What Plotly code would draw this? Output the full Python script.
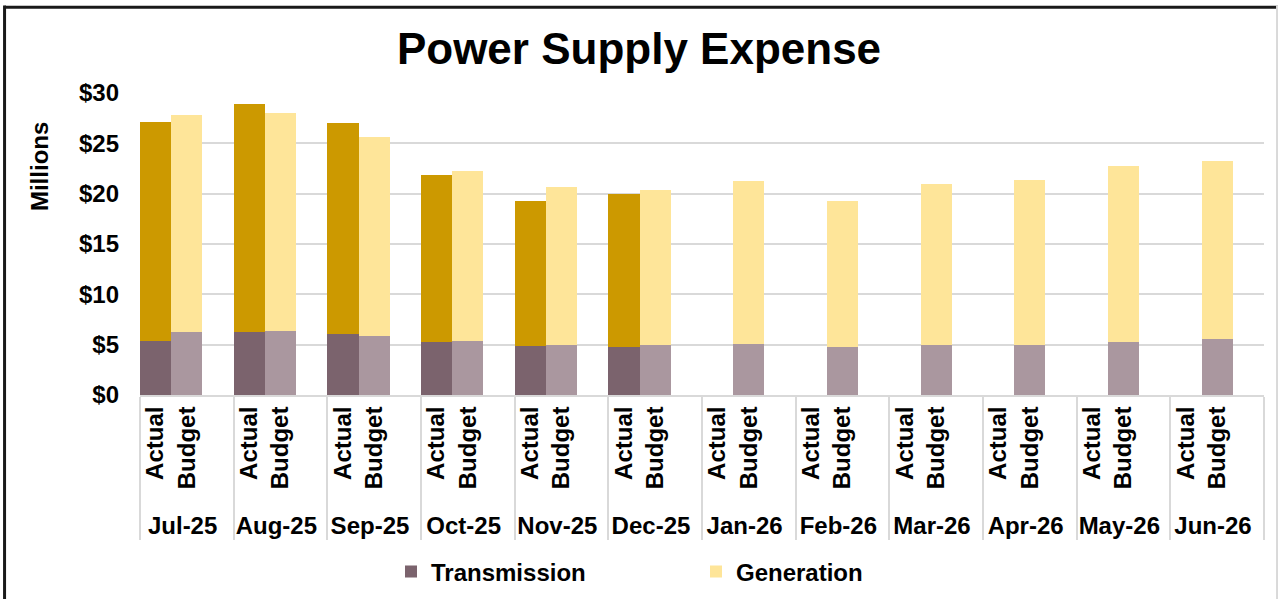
import plotly.graph_objects as go

months = ["Jul-25", "Aug-25", "Sep-25", "Oct-25", "Nov-25", "Dec-25",
          "Jan-26", "Feb-26", "Mar-26", "Apr-26", "May-26", "Jun-26"]
slots = ["Actual", "Budget", " "]

# $ millions
trans_actual = [5.38, 6.27, 6.07, 5.28, 4.89, 4.79, None, None, None, None, None, None]
gen_actual = [21.71, 22.60, 20.91, 16.55, 14.37, 15.16, None, None, None, None, None, None]
trans_budget = [6.27, 6.37, 5.88, 5.38, 4.98, 4.98, 5.08, 4.79, 4.98, 4.98, 5.28, 5.58]
gen_budget = [21.51, 21.60, 19.72, 16.85, 15.66, 15.37, 16.16, 14.47, 15.96, 16.36, 17.44, 17.64]

C_TA = "#7B636D"
C_TB = "#AA979F"
C_GA = "#CC9900"
C_GB = "#FEE599"
FONT = "Liberation Sans, Arial, sans-serif"

all_outer = [m for m in months for s in slots]
all_inner = [s for m in months for s in slots]

fig = go.Figure()
fig.add_trace(go.Bar(x=[all_outer, all_inner], y=[None] * len(all_outer),
                     showlegend=False, hoverinfo="skip"))
fig.add_trace(go.Bar(x=[months, ["Actual"] * 12], y=trans_actual, name="Transmission",
                     marker=dict(color=C_TA, line=dict(width=0)), legendgroup="t"))
fig.add_trace(go.Bar(x=[months, ["Budget"] * 12], y=trans_budget, name="Transmission",
                     marker=dict(color=C_TB, line=dict(width=0)), showlegend=False, legendgroup="t"))
fig.add_trace(go.Bar(x=[months, ["Actual"] * 12], y=gen_actual, name="Generation",
                     marker=dict(color=C_GA, line=dict(width=0)), showlegend=False, legendgroup="g"))
fig.add_trace(go.Bar(x=[months, ["Budget"] * 12], y=gen_budget, name="Generation",
                     marker=dict(color=C_GB, line=dict(width=0)), legendgroup="g"))

fig.update_layout(
    width=1278, height=599,
    barmode="stack", bargap=0,
    paper_bgcolor="white", plot_bgcolor="white",
    margin=dict(l=140, r=14, t=93, b=204, autoexpand=False),
    font=dict(family=FONT, size=24, color="black", weight="bold"),
    title=dict(text="Power Supply Expense", x=0.5, xanchor="center",
               y=1 - 49 / 599, yanchor="middle", yref="container",
               font=dict(family=FONT, size=44, color="black", weight="bold")),
    showlegend=True,
    legend=dict(orientation="h", xref="container", yref="container",
                x=391 / 1278, xanchor="left", y=1 - 572 / 599, yanchor="middle",
                font=dict(family=FONT, size=24, color="black", weight="bold"),
                entrywidth=260, entrywidthmode="pixels", traceorder="normal",
                bgcolor="rgba(0,0,0,0)"),
    xaxis=dict(type="multicategory", tickangle=-90, showgrid=False, automargin=False,
               showline=True, linecolor="#D9D9D9", linewidth=2,
               showdividers=True, dividercolor="#D9D9D9", dividerwidth=2,
               tickfont=dict(family=FONT, size=24, color="black", weight="bold"),
               ticks=""),
    yaxis=dict(range=[0, 30], dtick=5, tickprefix="$", showgrid=True, automargin=False,
               gridcolor="#D9D9D9", gridwidth=2, zeroline=False, showline=False,
               ticks="", ticklabelstandoff=20,
               tickfont=dict(family=FONT, size=24, color="black", weight="bold")),
    annotations=[dict(text="Millions", xref="paper", yref="paper",
                      x=-0.0899, y=0.758, textangle=-90, showarrow=False,
                      xanchor="center", yanchor="middle",
                      font=dict(family=FONT, size=24, color="black", weight="bold"))],
    shapes=[
        dict(type="line", xref="paper", yref="paper", x0=-0.1205, x1=-0.1205,
             y0=1.29, y1=-0.7, line=dict(color="#1a1a1a", width=3)),
        dict(type="line", xref="paper", yref="paper", x0=-0.1205, x1=1.02,
             y0=1.284, y1=1.284, line=dict(color="#1a1a1a", width=3)),
        dict(type="line", xref="paper", yref="paper", x0=1.0116, x1=1.0116,
             y0=1.29, y1=-0.7, line=dict(color="#D9D9D9", width=2)),
    ],
)

fig.write_html("out.html", config={"displayModeBar": False},
               post_script="document.body.style.margin='0';")
